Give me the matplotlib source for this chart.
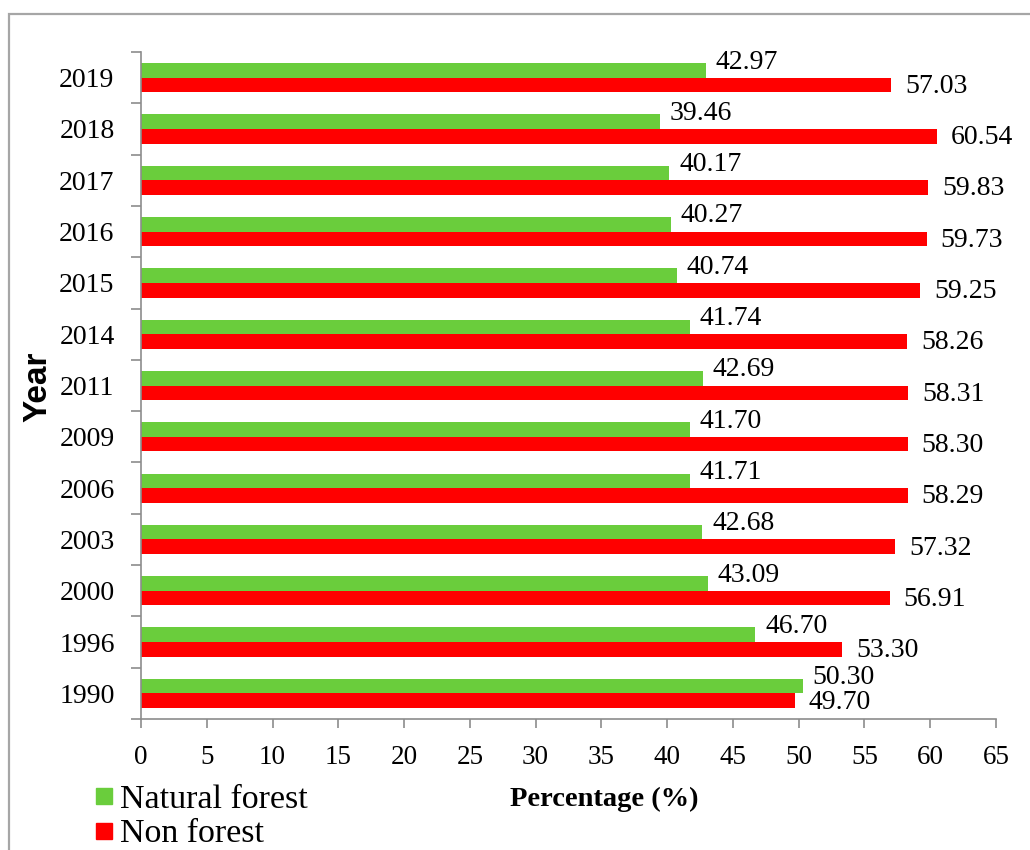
#!/usr/bin/python3

import matplotlib
matplotlib.use("Agg")
import matplotlib.pyplot as plt
from matplotlib.lines import Line2D
from matplotlib.patches import Rectangle
import numpy as np

#land cover shares per survey year
years = ["1990", "1996", "2000", "2003", "2006", "2009", "2011",
         "2014", "2015", "2016", "2017", "2018", "2019"]
natural = [50.30, 46.70, 43.09, 42.68, 41.71, 41.70, 42.69,
           41.74, 40.74, 40.27, 40.17, 39.46, 42.97]
nonforest = [49.70, 53.30, 56.91, 57.32, 58.29, 58.30, 58.31,
             58.26, 59.25, 59.73, 59.83, 60.54, 57.03]

col_nat = "#6acd3c"
col_non = "#ff0000"
col_ax = "#8c8c8c"

#_____________________________________________________________________________
def main():

    serif = ["Liberation Serif", "DejaVu Serif"]
    plt.rcParams["font.family"] = serif

    fig = plt.figure(figsize=(10.3, 8.5), dpi=100)
    ax = fig.add_axes([0.1369, 0.1541, 0.8301, 0.7847])

    #frame around the whole chart
    fig.patches.append(Rectangle((9/1030., -0.05), 1.2, 1.05 - 14/850.,
                       transform=fig.transFigure, fill=False,
                       edgecolor="#a6a6a6", lw=1.6))

    y = np.arange(len(years))
    h = 0.285

    bn = ax.barh(y + h/2, natural, height=h, color=col_nat, label="Natural forest")
    br = ax.barh(y - h/2, nonforest, height=h, color=col_non, label="Non forest")

    #value labels at the bar ends
    for b, v in zip(bn, natural):
        ax.annotate("{0:.2f}".format(v), (b.get_width(), b.get_y() + b.get_height()/2),
                    xytext=(7, 6), textcoords="offset points", va="center", ha="left",
                    fontsize=20)
    for b, v in zip(br, nonforest):
        ax.annotate("{0:.2f}".format(v), (b.get_width(), b.get_y() + b.get_height()/2),
                    xytext=(10, -1), textcoords="offset points", va="center", ha="left",
                    fontsize=20)

    ax.set_xlim(0, 65)
    ax.set_ylim(-0.5, len(years) - 0.5)
    ax.set_xticks(np.arange(0, 66, 5))
    ax.set_yticks(y)
    ax.set_yticklabels(years)
    ax.set_yticks(np.arange(-0.5, len(years), 1), minor=True)

    ax.tick_params(axis="x", which="major", length=6.5, width=1.2, color=col_ax,
                   labelsize=19.5, pad=12)
    ax.tick_params(axis="y", which="major", length=0, labelsize=20, pad=19)
    ax.tick_params(axis="y", which="minor", length=7, width=1.2, color=col_ax)

    for s in ["top", "right"]:
        ax.spines[s].set_visible(False)
    for s in ["left", "bottom"]:
        ax.spines[s].set_color(col_ax)
        ax.spines[s].set_linewidth(1.2)

    fig.text(0.0365, 0.545, "Year", rotation=90, ha="center", va="center",
             fontsize=24, fontweight="bold", family="Liberation Sans")
    fig.text(0.587, 0.059, "Percentage (%)", ha="center", va="center",
             fontsize=20.5, fontweight="bold")

    #legend with square markers
    handles = [Line2D([0], [0], marker="s", ls="", markersize=12, color=col_nat),
               Line2D([0], [0], marker="s", ls="", markersize=12, color=col_non)]
    fig.legend(handles, ["Natural forest", "Non forest"], loc="upper left",
               bbox_to_anchor=(0.093, 0.078), frameon=False, fontsize=24.5,
               handlelength=0.5, handletextpad=0.2, labelspacing=0.12,
               borderaxespad=0, borderpad=0)

    fig.savefig("out.png", dpi=100)

#main

#_____________________________________________________________________________
if __name__ == "__main__":

    main()
